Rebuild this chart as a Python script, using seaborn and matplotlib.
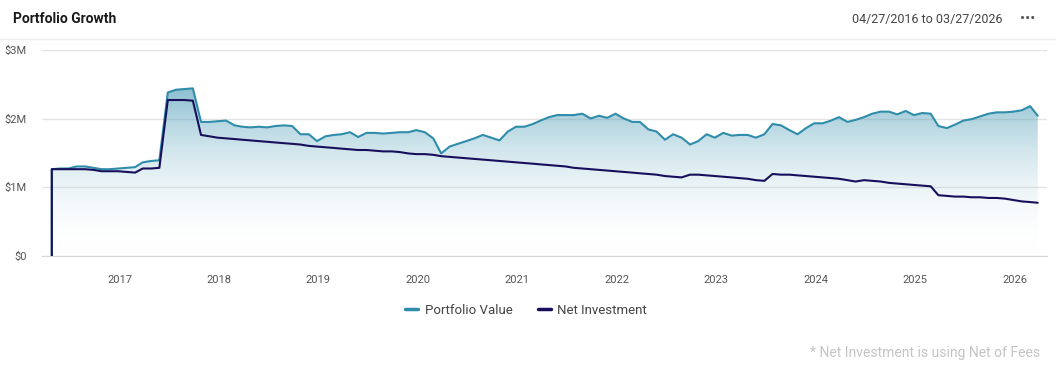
import numpy as np
import pandas as pd
import matplotlib
matplotlib.use("Agg")
import matplotlib.pyplot as plt
import matplotlib.dates as mdates
from matplotlib.colors import LinearSegmentedColormap
from matplotlib.lines import Line2D
import seaborn as sns

# monthly values, in $M, from 04/27/2016 to 03/27/2026
portfolio_value = [
    1.26, 1.27, 1.27, 1.30, 1.30, 1.28, 1.26, 1.26, 1.27, 1.28, 1.29, 1.36,
    1.38, 1.39, 2.38, 2.42, 2.43, 2.44, 1.95, 1.95, 1.96, 1.97, 1.90, 1.88,
    1.87, 1.88, 1.87, 1.89, 1.90, 1.89, 1.77, 1.77, 1.67, 1.74, 1.76, 1.77,
    1.80, 1.73, 1.79, 1.79, 1.78, 1.79, 1.80, 1.80, 1.83, 1.80, 1.71, 1.49,
    1.59, 1.63, 1.67, 1.71, 1.76, 1.72, 1.68, 1.81, 1.88, 1.88, 1.92, 1.97,
    2.02, 2.05, 2.05, 2.05, 2.07, 2.00, 2.04, 2.01, 2.07, 2.00, 1.95, 1.95,
    1.84, 1.81, 1.69, 1.77, 1.72, 1.62, 1.67, 1.77, 1.72, 1.79, 1.75, 1.76,
    1.76, 1.72, 1.77, 1.92, 1.90, 1.83, 1.77, 1.86, 1.93, 1.93, 1.97, 2.02,
    1.95, 1.98, 2.02, 2.07, 2.10, 2.10, 2.06, 2.11, 2.05, 2.08, 2.07, 1.89,
    1.86, 1.91, 1.97, 1.99, 2.03, 2.07, 2.09, 2.09, 2.10, 2.12, 2.18, 2.04,
]
net_investment = [
    1.26, 1.26, 1.26, 1.26, 1.26, 1.25, 1.23, 1.23, 1.23, 1.22, 1.21, 1.27,
    1.27, 1.28, 2.27, 2.27, 2.27, 2.26, 1.76, 1.74, 1.72, 1.71, 1.70, 1.69,
    1.68, 1.67, 1.66, 1.65, 1.64, 1.63, 1.62, 1.60, 1.59, 1.58, 1.57, 1.56,
    1.55, 1.54, 1.54, 1.53, 1.52, 1.52, 1.51, 1.49, 1.48, 1.48, 1.47, 1.45,
    1.44, 1.43, 1.42, 1.41, 1.40, 1.39, 1.38, 1.37, 1.36, 1.35, 1.34, 1.33,
    1.32, 1.31, 1.30, 1.28, 1.27, 1.26, 1.25, 1.24, 1.23, 1.22, 1.21, 1.20,
    1.19, 1.18, 1.16, 1.15, 1.14, 1.18, 1.18, 1.17, 1.16, 1.15, 1.14, 1.13,
    1.12, 1.10, 1.09, 1.19, 1.18, 1.18, 1.17, 1.16, 1.15, 1.14, 1.13, 1.12,
    1.10, 1.08, 1.10, 1.09, 1.08, 1.06, 1.05, 1.04, 1.03, 1.02, 1.01, 0.88,
    0.87, 0.86, 0.86, 0.85, 0.85, 0.84, 0.84, 0.83, 0.81, 0.79, 0.78, 0.77,
]
start_date = "2016-04-27"
end_date = "2026-03-27"
year_ticks = list(range(2017, 2027))
y_ticks = [0, 1, 2, 3]
y_labels = ["$0", "$1M", "$2M", "$3M"]

# account opened at zero on the start date
dates = [pd.Timestamp(start_date)] + list(pd.date_range(start_date, end_date, freq=pd.DateOffset(months=1)))
df = pd.DataFrame({
    "date": dates,
    "Portfolio Value": np.array([0.0] + portfolio_value) * 1e6,
    "Net Investment": np.array([0.0] + net_investment) * 1e6,
})

teal = "#2f8dab"
navy = "#170f5c"
grid = "#e3e3e3"
label_col = "#555555"

sns.set_style("white")
plt.rcParams["font.family"] = ["Roboto", "DejaVu Sans"]

fig = plt.figure(figsize=(10.56, 3.66), dpi=100)
ax = fig.add_axes([42 / 1056, 1 - 255.5 / 366, (1047 - 42) / 1056, 205.5 / 366])

# gradient area under the portfolio line
x = mdates.date2num(df["date"])
y = df["Portfolio Value"].values
poly = ax.fill_between(x, 0, y, color="none", lw=0)
cmap = LinearSegmentedColormap.from_list("fade", [(1, 1, 1, 0), (0.18, 0.55, 0.67, 0.55)])
grad = np.linspace(0, 1, 256).reshape(-1, 1)
img = ax.imshow(grad, cmap=cmap, aspect="auto", origin="lower",
                extent=[x.min(), x.max(), 0, y.max()], zorder=1)
img.set_clip_path(poly.get_paths()[0], transform=ax.transData)

sns.lineplot(data=df, x="date", y="Portfolio Value", color=teal, lw=1.5,
             estimator=None, sort=False, ax=ax, zorder=3)
sns.lineplot(data=df, x="date", y="Net Investment", color=navy, lw=1.5,
             estimator=None, sort=False, ax=ax, zorder=4)

ax.set_xlim(pd.Timestamp("2016-03-22"), pd.Timestamp("2026-04-30"))
ax.set_ylim(0, 3e6)
ax.set_yticks([v * 1e6 for v in y_ticks])
ax.set_yticklabels(y_labels)
ax.set_xticks([pd.Timestamp(f"{yr}-01-01") for yr in year_ticks])
ax.set_xticklabels([str(yr) for yr in year_ticks])
ax.set_xlabel("")
ax.set_ylabel("")

ax.grid(axis="y", color=grid, lw=1)
ax.grid(axis="x", visible=False)
for s in ["top", "right", "left"]:
    ax.spines[s].set_visible(False)
ax.spines["bottom"].set_color("#d6d6d6")
ax.tick_params(axis="y", length=0, pad=11, labelsize=8, labelcolor=label_col)
ax.tick_params(axis="x", length=6, width=0.8, color="#dcdcdc", pad=8,
               labelsize=8, labelcolor=label_col)
for lab in ax.get_yticklabels():
    lab.set_horizontalalignment("right")

# header
fig.text(13 / 1056, 1 - 19 / 366, "Portfolio Growth", fontsize=10, fontweight="bold",
         color="#1a1a1a", va="center", ha="left")
fig.text(1003 / 1056, 1 - 19 / 366, f"{pd.Timestamp(start_date):%m/%d/%Y} to {pd.Timestamp(end_date):%m/%d/%Y}",
         fontsize=9, color="#444444", va="center", ha="right")
fig.text(1028 / 1056, 1 - 19 / 366, "•••", fontsize=11, color="#555555", va="center", ha="center")
fig.add_artist(Line2D([0, 1], [1 - 39 / 366] * 2, color="#ececec", lw=1, transform=fig.transFigure))

handles = [Line2D([0], [0], color=teal, lw=2.5), Line2D([0], [0], color=navy, lw=2.5)]
fig.legend(handles, ["Portfolio Value", "Net Investment"], loc="center",
           bbox_to_anchor=(526 / 1056, 1 - 310 / 366), ncol=2, frameon=False,
           handlelength=1.0, handletextpad=0.5, columnspacing=1.9,
           prop={"size": 9.5}, labelcolor="#444444")

fig.text(1040 / 1056, 1 - 353 / 366, "* Net Investment is using Net of Fees",
         fontsize=10, color="#c4c4c4", ha="right", va="center")

fig.savefig("out.png", dpi=100)
